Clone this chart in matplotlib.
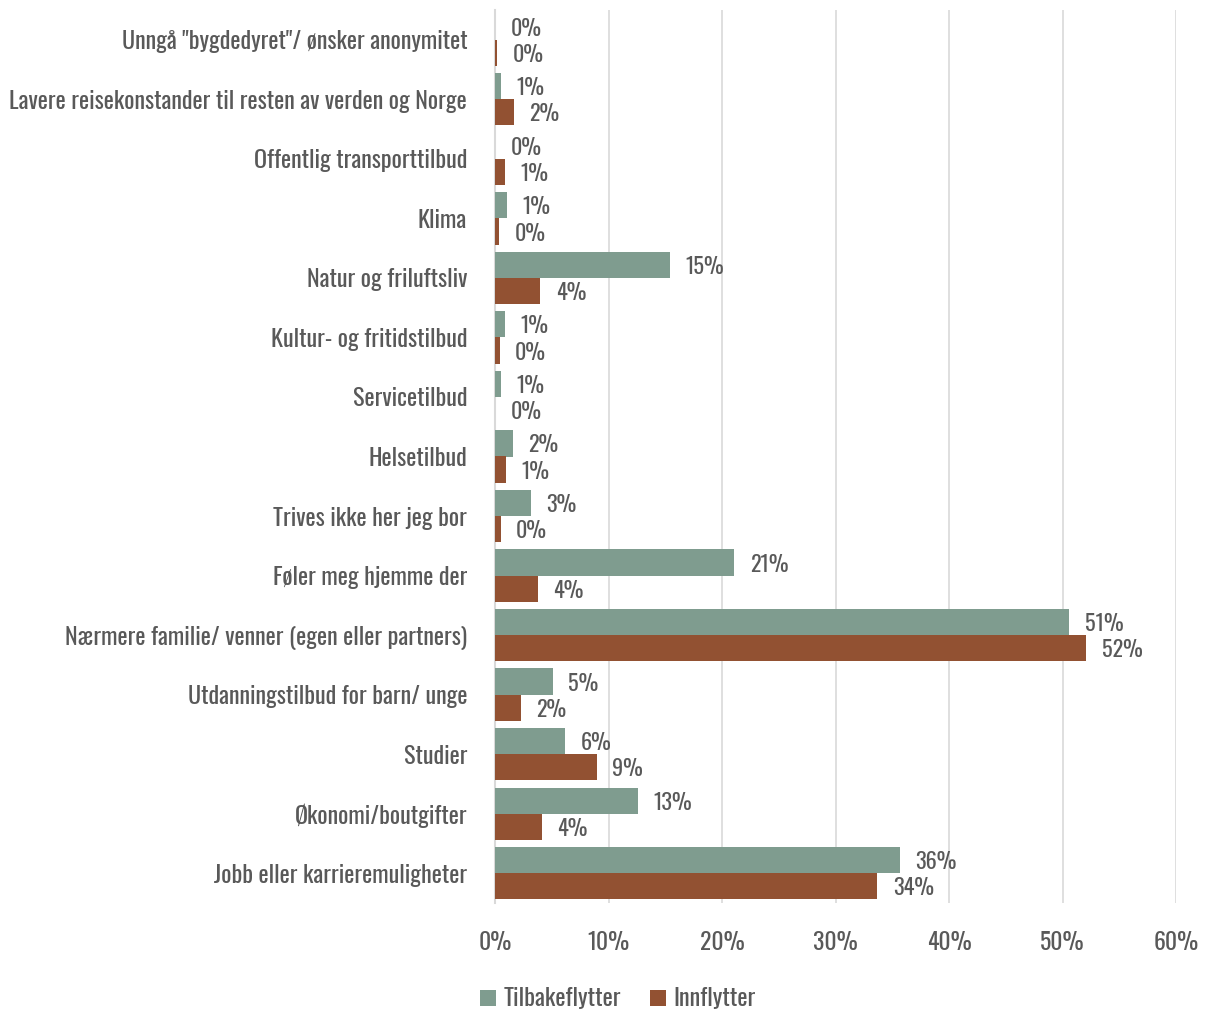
import numpy as np
import matplotlib
matplotlib.use("Agg")
import matplotlib.pyplot as plt
from matplotlib.ticker import PercentFormatter

plt.rcParams['font.family'] = ['Oswald', 'Liberation Sans Narrow', 'DejaVu Sans']

# Data (bottom to top as drawn)
categories = [
    "Jobb eller karrieremuligheter",
    "Økonomi/boutgifter",
    "Studier",
    "Utdanningstilbud for barn/ unge",
    "Nærmere familie/ venner (egen eller partners)",
    "Føler meg hjemme der",
    "Trives ikke her jeg bor",
    "Helsetilbud",
    "Servicetilbud",
    "Kultur- og fritidstilbud",
    "Natur og friluftsliv",
    "Klima",
    "Offentlig transporttilbud",
    "Lavere reisekonstander til resten av verden og Norge",
    'Unngå "bygdedyret"/ ønsker anonymitet',
]
tilbakeflytter = [35.7, 12.6, 6.2, 5.1, 50.6, 21.1, 3.2, 1.6, 0.55, 0.9, 15.4, 1.1, 0.0, 0.55, 0.0]
innflytter = [33.7, 4.1, 9.0, 2.3, 52.1, 3.8, 0.5, 1.0, 0.03, 0.4, 4.0, 0.35, 0.9, 1.7, 0.2]

green = "#7F9C8F"
brown = "#925132"
textc = "#595959"

fig = plt.figure(figsize=(12.11, 10.14), dpi=100)
ax = fig.add_axes([495 / 1211, 1 - 903 / 1014, 681 / 1211, 893 / 1014])

y = np.arange(len(categories))
h = 0.44
ax.barh(y + h / 2, tilbakeflytter, height=h, color=green, label="Tilbakeflytter", zorder=3)
ax.barh(y - h / 2, innflytter, height=h, color=brown, label="Innflytter", zorder=3)

# value labels
for yi, v in zip(y, tilbakeflytter):
    ax.annotate(f"{v:.0f}%", (v, yi + h / 2), xytext=(11, -1.5), textcoords="offset points",
                va="center", ha="left", fontsize=16, color=textc)
for yi, v in zip(y, innflytter):
    ax.annotate(f"{v:.0f}%", (v, yi - h / 2), xytext=(11, -1.5), textcoords="offset points",
                va="center", ha="left", fontsize=16, color=textc)

ax.set_xlim(0, 60)
ax.set_ylim(-0.5, len(categories) - 0.5)
ax.set_yticks(y)
ax.set_yticklabels(categories, fontsize=17.4, color=textc)
ax.set_xticks(np.arange(0, 61, 10))
ax.xaxis.set_major_formatter(PercentFormatter(decimals=0))
ax.tick_params(axis='x', labelsize=17, labelcolor=textc, length=0, pad=20)
ax.tick_params(axis='y', length=0, pad=20)
ax.grid(axis='x', color="#D9D9D9", linewidth=1.2, zorder=0)
for s in ["top", "right", "bottom"]:
    ax.spines[s].set_visible(False)
ax.spines["left"].set_color("#D9D9D9")
ax.spines["left"].set_linewidth(1.5)

fig.legend(loc="lower center", bbox_to_anchor=(0.51, -0.018), ncol=2, frameon=False,
           fontsize=17.5, labelcolor=textc, handlelength=0.65, handleheight=0.65,
           handletextpad=0.3, columnspacing=1.2)

fig.savefig("out.png", dpi=100)
